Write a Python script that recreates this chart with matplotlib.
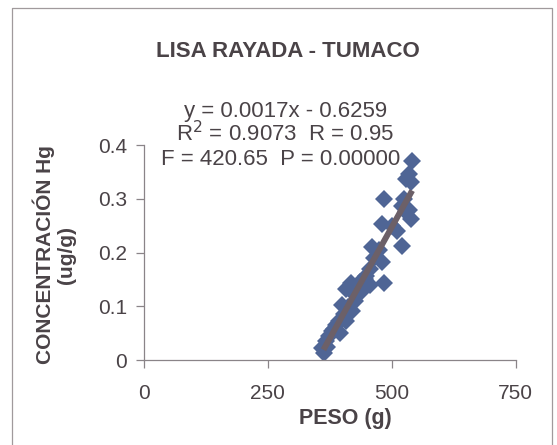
import numpy as np
import matplotlib.pyplot as plt
from matplotlib.lines import Line2D

# --- datos ---
peso = [541, 534, 528, 538, 484, 520, 534, 528, 538, 480,
        510, 520, 460, 474, 480, 484, 448, 417, 407, 427,
        440, 399, 419, 393, 407, 379, 373, 367, 359, 363,
        455, 445, 432, 425, 412, 403, 388, 383, 395, 370,
        435, 465, 500, 525, 455]
conc = [0.370, 0.346, 0.337, 0.331, 0.300, 0.287, 0.280, 0.276, 0.263, 0.254,
        0.240, 0.213, 0.211, 0.204, 0.183, 0.143, 0.157, 0.143, 0.133, 0.120,
        0.128, 0.102, 0.091, 0.072, 0.072, 0.054, 0.044, 0.035, 0.022, 0.013,
        0.170, 0.150, 0.135, 0.110, 0.098, 0.085, 0.065, 0.058, 0.050, 0.025,
        0.145, 0.190, 0.250, 0.300, 0.140]
x_ticks = [0, 250, 500, 750]
y_ticks = [0, 0.1, 0.2, 0.3, 0.4]
ecuacion = 'y = 0.0017x - 0.6259'
estadis = ['R$^2$ = 0.9073  R = 0.95', 'F = 420.65  P = 0.00000']

TXT = '#4a4347'
AX = '#8a8488'
plt.rcParams['font.family'] = ['Liberation Sans', 'DejaVu Sans']

fig = plt.figure(figsize=(5.57, 4.45), dpi=100)
ax = fig.add_axes([0.2585, 0.191, 0.6675, 0.483])

ax.plot(peso, conc, 'D', color='#4f6595', markersize=9, markeredgewidth=0, zorder=2)
# linea de tendencia ajustada a los puntos
m, b = np.polyfit(peso, conc, 1)
xl = np.array([min(peso) + 3, max(peso)])
ax.plot(xl, m * xl + b, color='#6c6068', lw=4.3, solid_capstyle='butt', zorder=3)

ax.set_xlim(0, 750)
ax.set_ylim(0, 0.4)
ax.set_xticks(x_ticks)
ax.set_yticks(y_ticks)
ax.set_yticklabels(['0', '0.1', '0.2', '0.3', '0.4'])
ax.spines['top'].set_visible(False)
ax.spines['right'].set_visible(False)
for s in ('left', 'bottom'):
    ax.spines[s].set_color(AX)
    ax.spines[s].set_linewidth(0.9)
ax.tick_params(colors=AX, labelcolor=TXT, labelsize=15, length=6, width=0.9,
               direction='out')
ax.tick_params(axis='x', pad=11)
ax.tick_params(axis='y', pad=6)

ax.set_xlabel('PESO (g)', fontsize=15.5, fontweight='bold', color=TXT)
ax.xaxis.set_label_coords(0.543, -0.222)
ax.set_ylabel('CONCENTRACIÓN Hg\n(ug/g)', fontsize=15, fontweight='bold',
              color=TXT, linespacing=1.15)
ax.yaxis.set_label_coords(-0.183, 0.49)

fig.text(0.516, 0.872, 'LISA RAYADA - TUMACO', ha='center', va='baseline',
         fontsize=16, fontweight='bold', color=TXT)
fig.text(0.512, 0.737, ecuacion, ha='center', va='baseline', fontsize=16, color=TXT)
fig.text(0.512, 0.683, estadis[0], ha='center', va='baseline', fontsize=16, color=TXT)
fig.text(0.503, 0.629, estadis[1], ha='center', va='baseline', fontsize=16, color=TXT)

# marco de la figura
fig.add_artist(Line2D([0.022, 0.022, 0.991, 0.991], [0.0, 0.983, 0.983, 0.0],
                      transform=fig.transFigure, color='#a09a9c', lw=0.9))

fig.savefig('out.png', dpi=100)
